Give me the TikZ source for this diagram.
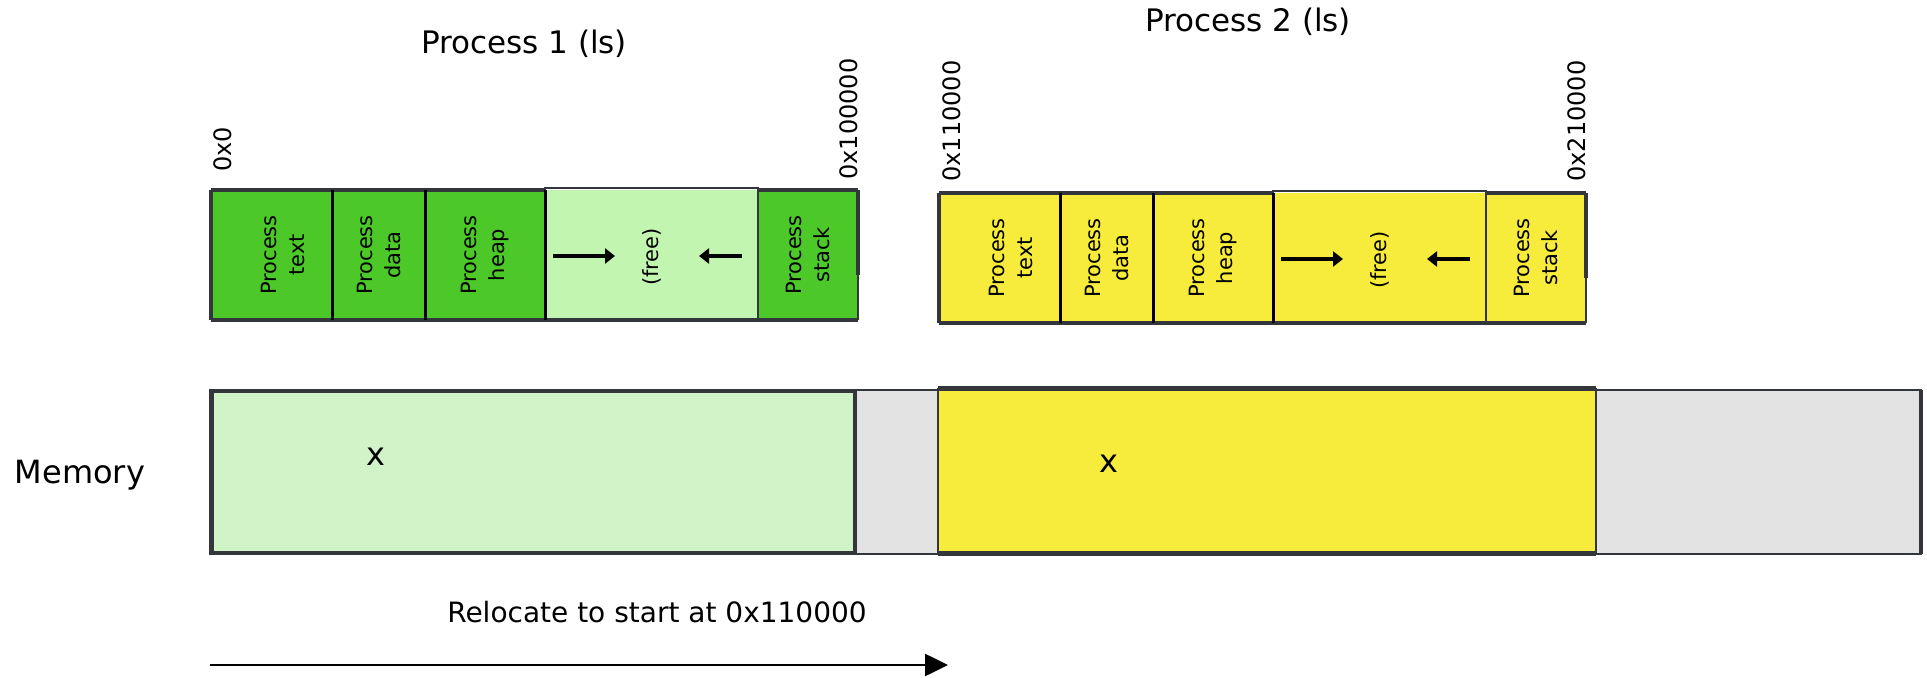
\documentclass[tikz,border=0pt]{standalone}
\usepackage{fontspec}
\setmainfont{DejaVu Sans}
\usetikzlibrary{arrows.meta,positioning}
\definecolor{procgreen}{RGB}{76,200,40}
\definecolor{freegreen}{RGB}{194,245,176}
\definecolor{memgreen}{RGB}{208,244,200}
\definecolor{procyellow}{RGB}{247,236,59}
\definecolor{memgray}{RGB}{227,227,227}
\definecolor{edgegray}{RGB}{51,54,58}
\newcommand{\segH}{130}
\tikzset{
  segbox/.style    = {line width=2pt, draw=edgegray},
  divider/.style   = {line width=1.5pt, draw=black},
  freebox/.style   = {line width=0.8pt, draw=edgegray},
  seglabel/.style  = {font=\fontsize{10.5}{14}\selectfont, rotate=90, align=center, inner sep=0pt},
  addrlabel/.style = {font=\fontsize{12}{14}\selectfont, rotate=90, anchor=west, inner sep=0pt},
  titlelabel/.style= {font=\fontsize{15.5}{18}\selectfont},
  memlabel/.style  = {font=\fontsize{16}{18}\selectfont},
  growarrow/.style = {-{Triangle[length=5pt,width=7.5pt]}, line width=1.9pt},
  relocarrow/.style= {-{Triangle[length=11.5pt,width=11pt]}, line width=1.3pt}
}

\begin{document}
\begin{tikzpicture}[
    % one unit = one pixel of the reference, y grows downwards
    x={(0.5pt,0pt)}, y={(0pt,-0.5pt)}
  ]
    \useasboundingbox (0,0) rectangle (1927,678);

    % Process images (ls), one per process
    \foreach \n/\ox/\oy/\segcol/\freecol in {1/211/190/procgreen/freegreen, 2/939/193/procyellow/procyellow}{
      \begin{scope}[shift={(\ox,\oy)}]
        \fill[\segcol] (0,0) rectangle (334,\segH);
        \fill[\freecol] (334,0) rectangle (547,\segH);
        \fill[\segcol] (547,0) rectangle (647,\segH);
        \draw[freebox] (334,-2) rectangle (547,\segH);
        \draw[segbox] (0,0) -- (334,0) (547,0) -- (647,0);
        \draw[segbox] (0,\segH) -- (647,\segH);
        \draw[segbox] (0,0) -- (0,\segH);
        \draw[segbox] (647,0) -- (647,85);
        \draw[freebox] (647,85) -- (647,\segH);
        \foreach \xx in {121,214,334}{
          \draw[divider] (\xx,0) -- (\xx,\segH);
        }
        % segment names
        \foreach \sx/\word in {72/text,167.5/data,274/heap,597/stack}{
          \node[seglabel] (p\n\word) at (\sx,65) {Process\\\word};
        }
        \node[seglabel] (p\n free) at (441,67) {(free)};
        % heap and stack grow into the free area
        \coordinate (p\n heapgrow) at (342,66);
        \coordinate (p\n heaptip) at (404,66);
        \coordinate (p\n stackgrow) at (531,66);
        \coordinate (p\n stacktip) at (488,66);
        \draw[growarrow] (p\n heapgrow) -- (p\n heaptip);
        \draw[growarrow] (p\n stackgrow) -- (p\n stacktip);
      \end{scope}
    }

    % Titles and addresses
    \node[titlelabel] (title1) at (524,44) {Process 1 (ls)};
    \node[titlelabel] (title2) at (1248,22) {Process 2 (ls)};
    \node[addrlabel] (addr1lo) at (223,172) {0x0};
    \node[addrlabel] (addr1hi) at (849,180) {0x100000};
    \node[addrlabel] (addr2lo) at (952,182) {0x110000};
    \node[addrlabel] (addr2hi) at (1577,182) {0x210000};

    % Physical memory
    \fill[memgray] (210,390) rectangle (1921,554);
    \draw[line width=1pt, edgegray] (210,390) rectangle (1921,554);
    \draw[line width=1.6pt, edgegray] (1921,390) -- (1921,554);
    \draw[segbox, fill=memgreen] (212,391) rectangle (855,553);
    \fill[procyellow] (938,388) rectangle (1596,554);
    \draw[line width=0.8pt, edgegray] (938,388) -- (938,554) (1596,388) -- (1596,554);
    \draw[line width=2.5pt, edgegray] (938,389) -- (1596,389) (938,553) -- (1596,553);
    \node[memlabel] (memory) at (80,475) {Memory};
    \node[memlabel] (x1) at (376,457) {x};
    \node[memlabel] (x2) at (1109,464) {x};

    % Relocation
    \node[font=\fontsize{14}{16}\selectfont] (reloc) at (657,612) {Relocate to start at 0x110000};
    \coordinate (relocfrom) at (210,665);
    \coordinate (relocto) at (948,665);
    \draw[relocarrow] (relocfrom) -- (relocto);
  \end{tikzpicture}
\end{document}
